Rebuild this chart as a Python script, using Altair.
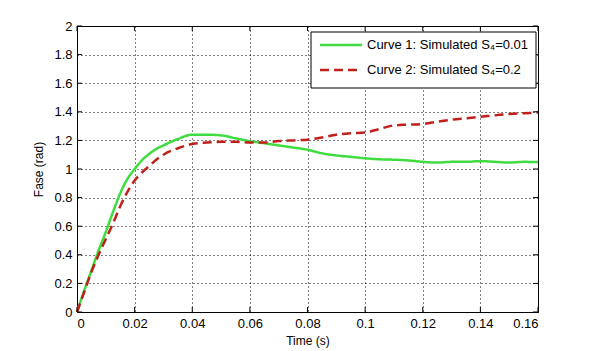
import altair as alt
import pandas as pd

t = [0, 0.0025, 0.005, 0.0075, 0.01, 0.0125, 0.015, 0.0175, 0.02, 0.0225, 0.025, 0.0275,
     0.03, 0.035, 0.04, 0.045, 0.05, 0.055, 0.06, 0.065, 0.07, 0.075, 0.08, 0.085, 0.09,
     0.095, 0.1, 0.105, 0.11, 0.115, 0.12, 0.125, 0.13, 0.135, 0.14, 0.145, 0.15, 0.155, 0.16]
curve1 = [0, 0.15, 0.29, 0.43, 0.56, 0.70, 0.83, 0.93, 1.00, 1.06, 1.105, 1.14,
          1.165, 1.21, 1.24, 1.24, 1.235, 1.215, 1.195, 1.18, 1.165, 1.15, 1.135, 1.11, 1.095,
          1.085, 1.075, 1.068, 1.065, 1.06, 1.05, 1.045, 1.05, 1.05, 1.055, 1.05, 1.045, 1.05, 1.048]
curve2 = [0, 0.14, 0.28, 0.40, 0.51, 0.62, 0.74, 0.84, 0.92, 0.975, 1.02, 1.065,
          1.10, 1.145, 1.175, 1.185, 1.19, 1.19, 1.185, 1.185, 1.195, 1.20, 1.205, 1.22, 1.24,
          1.25, 1.255, 1.28, 1.305, 1.31, 1.315, 1.33, 1.345, 1.355, 1.365, 1.375, 1.385, 1.39, 1.395]
names = ["Curve 1: Simulated S\u2084=0.01", "Curve 2: Simulated S\u2084=0.2"]
colors = ["#3fdc3f", "#c0201c"]
dashes = [[1, 0], [9, 5]]
x_ticks = [0, 0.02, 0.04, 0.06, 0.08, 0.1, 0.12, 0.14, 0.16]
y_ticks = [0, 0.2, 0.4, 0.6, 0.8, 1, 1.2, 1.4, 1.6, 1.8, 2]

W, H = 461, 286
FONT = "Liberation Sans"

rows = []
for name, vals in zip(names, [curve1, curve2]):
    for ti, v in zip(t, vals):
        rows.append({"t": ti, "v": v, "series": name})
df = pd.DataFrame(rows)

xscale = alt.Scale(domain=[0, 0.16], nice=False, zero=False)
yscale = alt.Scale(domain=[0, 2], nice=False, zero=False)
xaxis = alt.Axis(title="Time (s)", values=x_ticks, format="~g", grid=True,
                 ticks=False, domain=False, labelPadding=5, titlePadding=5)
yaxis = alt.Axis(title="Fase (rad)", values=y_ticks, format="~g", grid=True,
                 ticks=False, domain=False, labelPadding=5, titlePadding=8)

lines = alt.Chart(df).mark_line(strokeWidth=2.5, interpolate="monotone").encode(
    x=alt.X("t:Q", scale=xscale, axis=xaxis),
    y=alt.Y("v:Q", scale=yscale, axis=yaxis),
    color=alt.Color("series:N", scale=alt.Scale(domain=names, range=colors), legend=None),
    strokeDash=alt.StrokeDash("series:N", scale=alt.Scale(domain=names, range=dashes),
                              legend=None),
)

xt = pd.DataFrame({"t": x_ticks})
yt = pd.DataFrame({"v": y_ticks})

xb = alt.Chart(xt).mark_rule(color="black").encode(
    x=alt.X("t:Q", scale=xscale, axis=xaxis), y=alt.value(H), y2=alt.value(H - 5))
xtp = alt.Chart(xt).mark_rule(color="black").encode(
    x=alt.X("t:Q", scale=xscale, axis=xaxis), y=alt.value(0), y2=alt.value(5))
yl = alt.Chart(yt).mark_rule(color="black").encode(
    y=alt.Y("v:Q", scale=yscale, axis=yaxis), x=alt.value(0), x2=alt.value(5))
yr = alt.Chart(yt).mark_rule(color="black").encode(
    y=alt.Y("v:Q", scale=yscale, axis=yaxis), x=alt.value(W), x2=alt.value(W - 5))

# custom legend
leg_box = alt.Chart(pd.DataFrame({"a": [0]})).mark_rect(
    fill="white", stroke="black", strokeWidth=1).encode(
    x=alt.value(234), x2=alt.value(459), y=alt.value(6), y2=alt.value(62))
leg_layers = [leg_box]
for i, (name, col, dsh) in enumerate(zip(names, colors, dashes)):
    yy = 19 + 25 * i
    d = pd.DataFrame({"label": [name]})
    leg_layers.append(alt.Chart(d).mark_rule(color=col, strokeWidth=2.5, strokeDash=dsh).encode(
        x=alt.value(243), x2=alt.value(285), y=alt.value(yy)))
    leg_layers.append(alt.Chart(d).mark_text(
        align="left", baseline="middle", font=FONT, fontSize=13, color="black").encode(
        x=alt.value(290), y=alt.value(yy), text="label:N"))

chart = alt.layer(lines, xb, xtp, yl, yr, *leg_layers).properties(
    width=W, height=H,
    autosize=alt.AutoSizeParams(type="none"),
    padding={"left": 77, "top": 26, "right": 57, "bottom": 39},
    background="white",
).configure_view(stroke="black", strokeWidth=1).configure_axis(
    gridColor="black", gridDash=[1, 3], gridOpacity=1, gridWidth=1,
    labelFont=FONT, labelFontSize=13, labelColor="black",
    titleFont=FONT, titleFontSize=12, titleFontWeight="normal", titleColor="black",
)

chart.save("out.html", embed_options={"renderer": "svg", "actions": False})
